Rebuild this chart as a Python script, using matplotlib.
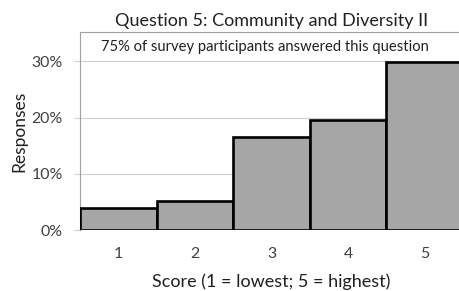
import matplotlib
matplotlib.use('Agg')
import matplotlib.pyplot as plt
from matplotlib.ticker import PercentFormatter

plt.rcParams['font.family'] = ['Lato', 'DejaVu Sans']

scores = [1, 2, 3, 4, 5]
share = [3.9, 5.2, 16.5, 19.6, 29.9]  # % of responses
yticks = [0, 10, 20, 30]

fig = plt.figure(figsize=(4.6, 2.91), dpi=100)
ax = fig.add_axes([80/460, 61/291, 383/460, 198/291])

ax.bar(scores, share, width=1.0, color='#a6a6a6', edgecolor='black', linewidth=1.9, zorder=3)

ax.set_xlim(0.5, 5.5)
ax.set_ylim(0, 35.2)
ax.set_yticks(yticks)
ax.yaxis.set_major_formatter(PercentFormatter(decimals=0))
ax.set_xticks(scores)
ax.grid(axis='y', color='#d0d0d0', lw=0.8, zorder=0)
ax.tick_params(axis='x', length=0, pad=12, labelsize=11.4, colors='#404040')
ax.tick_params(axis='y', length=4.5, color='#d0d0d0', pad=8, labelsize=11.4, labelcolor='#404040')
for s in ax.spines.values():
    s.set_color('#a0a0a0')
    s.set_linewidth(0.8)
ax.spines['bottom'].set_visible(False)

ax.set_title('Question 5: Community and Diversity II', fontsize=13, color='#202020', pad=4)
ax.text((265-80)/383, 0.925, '75% of survey participants answered this question',
        transform=ax.transAxes, ha='center', va='center', fontsize=10.6, color='#202020')
ax.set_xlabel('Score (1 = lowest; 5 = highest)', fontsize=13, color='#202020', labelpad=9.5)
ax.set_ylabel('Responses', fontsize=12.5, color='#202020', labelpad=3)

fig.savefig('out.png', dpi=100)
